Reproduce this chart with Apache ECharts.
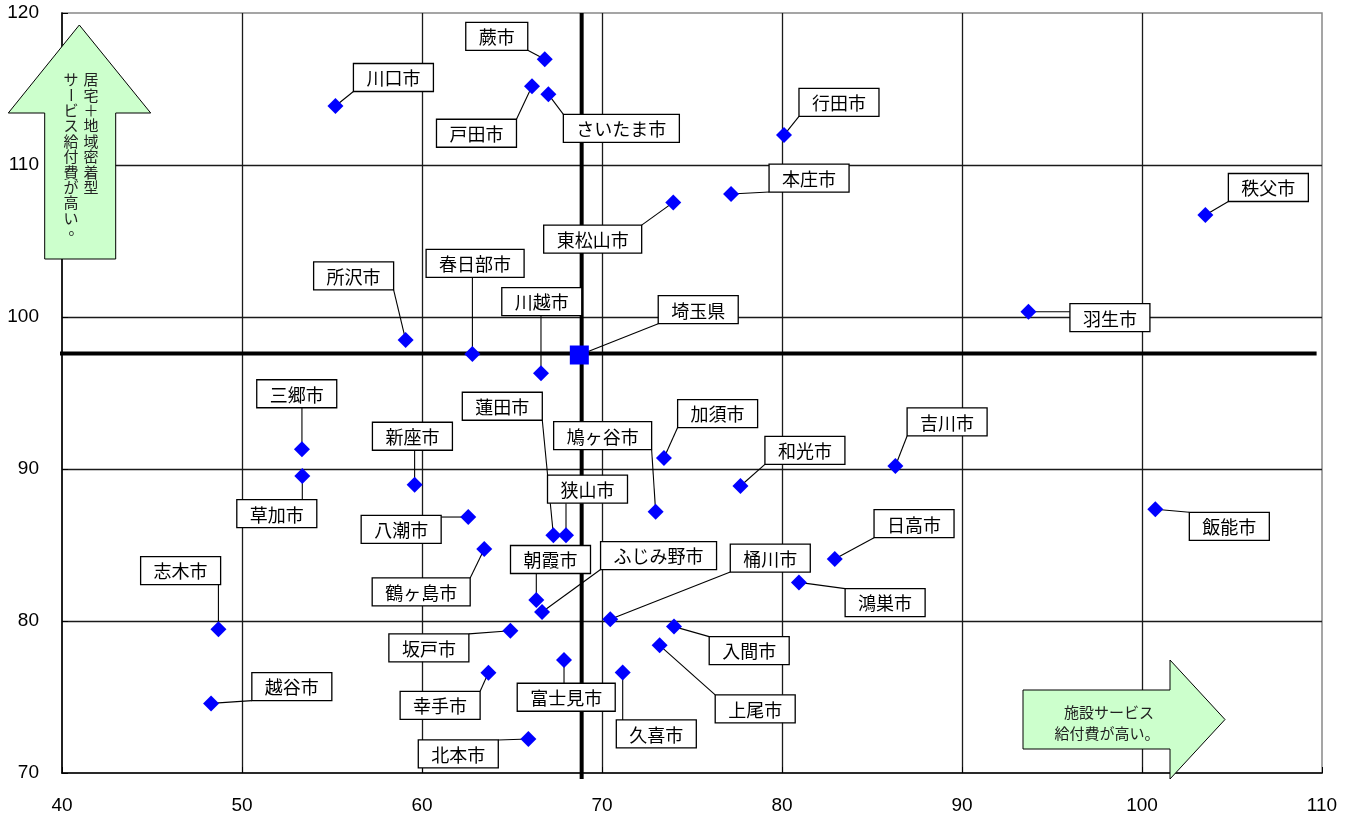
<!DOCTYPE html>
<html><head><meta charset="utf-8">
<script src="https://cdn.jsdelivr.net/npm/echarts@6/dist/echarts.min.js"></script>
<style>html,body{margin:0;padding:0;background:#fff}#c{width:1354px;height:819px}</style>
</head><body><div id="c"></div>
<script>
// ---- data ----
const cityNames = ['川口市','蕨市','戸田市','さいたま市','行田市','本庄市','東松山市','秩父市','所沢市','春日部市',
  '川越市','羽生市','三郷市','草加市','新座市','八潮市','蓮田市','狭山市','鳩ヶ谷市','加須市',
  '和光市','吉川市','飯能市','日高市','鴻巣市','鶴ヶ島市','朝霞市','ふじみ野市','桶川市','志木市',
  '坂戸市','入間市','上尾市','富士見市','幸手市','久喜市','北本市','越谷市'];
const cityX = [55.19,66.82,66.11,67.02,80.11,77.17,73.96,103.52,59.09,62.8,
  66.61,93.69,53.33,53.35,59.59,62.57,67.3,68.0,72.98,73.44,
  77.69,86.3,100.74,82.93,80.94,63.46,66.35,66.67,70.46,48.69,
  64.91,74.0,73.2,67.89,63.69,71.15,65.91,48.28];
const cityY = [113.88,116.95,115.18,114.65,111.97,108.09,107.54,106.71,98.49,97.57,
  96.3,100.35,91.3,89.54,88.97,86.84,85.64,85.64,87.19,90.72,
  88.88,90.2,87.35,84.08,82.54,84.74,81.38,80.59,80.11,79.45,
  79.36,79.63,78.4,77.43,76.6,76.62,72.24,74.58];
const prefName = '埼玉県';
const prefX = 68.74;
const prefY = 97.5;
const refX = 68.87;   // vertical reference line (prefecture level)
const refY = 97.6;    // horizontal reference line
const xTicks = [40,50,60,70,80,90,100,110];
const yTicks = [70,80,90,100,110,120];

// ---- layout: label box offsets from marker, in px ----
const labelOffsets = {
  '川口市':[58,-28.5],'蕨市':[-48,-23],'戸田市':[-55.5,47],'さいたま市':[73,34],'行田市':[55,-32.7],
  '本庄市':[78,-16],'東松山市':[-80.6,36.7],'秩父市':[63,-27.5],'所沢市':[-52,-64],'春日部市':[2.7,-90.5],
  '川越市':[0.8,-71.6],'羽生市':[81.5,6],'三郷市':[-5.2,-55.5],'草加市':[-25.5,37.7],'新座市':[-2.2,-48.4],
  '八潮市':[-67.1,12.3],'蓮田市':[-51.1,-129],'狭山市':[21.5,-46.1],'鳩ヶ谷市':[-53,-76],'加須市':[53.7,-44.5],
  '和光市':[64.5,-35.7],'吉川市':[51.7,-44],'飯能市':[74,17],'日高市':[79.3,-35.3],'鴻巣市':[86.2,20.2],
  '鶴ヶ島市':[-63.1,43],'朝霞市':[14.2,-40.5],'ふじみ野市':[116.5,-56.5],'桶川市':[160,-61.3],'志木市':[-37.8,-58.8],
  '坂戸市':[-81.5,17.1],'入間市':[75.2,24],'上尾市':[95.6,63.5],'富士見市':[2.2,37.2],'幸手市':[-48.3,32.6],
  '久喜市':[33.6,61.5],'北本市':[-70.1,15],'越谷市':[80.8,-16.8],'埼玉県':[118.9,-45.3]
};

const FONT_JP = '"Noto Sans CJK JP", sans-serif';
const LABEL_FS = 18, PADX = 13, BOXH = 28;

const allPoints = cityNames.map((n,i)=>[cityX[i], cityY[i], n]).concat([[prefX, prefY, prefName]]);

function renderLabel(params, api) {
  const name = allPoints[params.dataIndex][2];
  const c = api.coord([api.value(0), api.value(1)]);
  const off = labelOffsets[name];
  const cx = c[0] + off[0], cy = c[1] + off[1];
  const w = name.length * LABEL_FS + 2 * PADX, h = BOXH;
  const x0 = cx - w/2, y0 = cy - h/2;
  const nx = Math.min(Math.max(c[0], x0), x0 + w);
  const ny = Math.min(Math.max(c[1], y0), y0 + h);
  return {type:'group', children:[
    {type:'line', shape:{x1:c[0], y1:c[1], x2:nx, y2:ny}, style:{stroke:'#000', lineWidth:1.1}},
    {type:'rect', shape:{x:x0, y:y0, width:w, height:h}, style:{fill:'#fff', stroke:'#000', lineWidth:1.3}},
    {type:'text', x:cx, y:cy+1, style:{text:name, align:'center', textAlign:'center', verticalAlign:'middle', textVerticalAlign:'middle', font: LABEL_FS + 'px ' + FONT_JP, fill:'#000'}}
  ]};
}

// vertical text in the up arrow
const graphics = [];
graphics.push({type:'polygon', z:100, shape:{points:[[79.3,25],[150.7,113],[115.7,113],[115.7,259],[44.7,259],[44.7,113],[8.3,113]]},
  style:{fill:'#CCFFCC', stroke:'#000', lineWidth:1}});
function vcol(str, x, y0, step) {
  Array.from(str).forEach((ch, i) => {
    const el = {type:'text', z:101, x:x, y:y0 + i*step,
      style:{text:ch, align:'center', textAlign:'center', verticalAlign:'middle', textVerticalAlign:'middle', font:'15px ' + FONT_JP, fill:'#222'}};
    if (ch === 'ー') el.rotation = Math.PI/2;
    if (ch === '。') { el.x = x + 5; el.y = y0 + i*step - 5; }
    graphics.push(el);
  });
}
vcol('居宅＋地域密着型', 91, 79.5, 15.4);
vcol('サービス給付費が高い。', 71, 79.5, 15.4);
graphics.push({type:'polygon', z:100, shape:{points:[[1023,690],[1170,690],[1170,660],[1225,719.5],[1170,779],[1170,749],[1023,749]]},
  style:{fill:'#CCFFCC', stroke:'#000', lineWidth:1}});
graphics.push({type:'text', z:101, x:1109, y:712, style:{text:'施設サービス', align:'center', textAlign:'center', verticalAlign:'middle', textVerticalAlign:'middle', font:'15px ' + FONT_JP, fill:'#222'}});
graphics.push({type:'text', z:101, x:1107, y:733, style:{text:'給付費が高い。', align:'center', textAlign:'center', verticalAlign:'middle', textVerticalAlign:'middle', font:'15px ' + FONT_JP, fill:'#222'}});

const axisCommon = {
  type:'value',
  axisLine:{show:true, onZero:false, lineStyle:{color:'#000', width:1.6}},
  axisTick:{show:true, inside:true, length:6, lineStyle:{color:'#000', width:1}},
  splitLine:{show:true, showMinLine:false, showMaxLine:false, lineStyle:{color:'#1a1a1a', width:1.3}},
  axisLabel:{fontSize:19, fontFamily:'"Liberation Sans", Arial, sans-serif', color:'#000'}
};

const chart = echarts.init(document.getElementById('c'));
chart.setOption({
  animation:false,
  backgroundColor:'#fff',
  grid:{left:62, right:32, top:13, bottom:46, show:true, borderColor:'#888', borderWidth:1.5, containLabel:false, outerBoundsMode:'none'},
  xAxis: Object.assign({}, axisCommon, {min:xTicks[0], max:xTicks[xTicks.length-1], interval:xTicks[1]-xTicks[0],
    axisLabel:Object.assign({}, axisCommon.axisLabel, {margin:23})}),
  yAxis: Object.assign({}, axisCommon, {min:yTicks[0], max:yTicks[yTicks.length-1], interval:yTicks[1]-yTicks[0],
    axisLabel:Object.assign({}, axisCommon.axisLabel, {margin:23, padding:[7,0,0,0]})}),
  series:[
    {type:'line', z:2, silent:true, clip:false, symbol:'none', data:[[refX, 69.6],[refX, 120]], lineStyle:{color:'#000', width:4}},
    {type:'line', z:2, silent:true, clip:false, symbol:'none', data:[[39.85, refY],[109.7, refY]], lineStyle:{color:'#000', width:4}},
    {type:'custom', z:3, clip:false, silent:true, renderItem:renderLabel, data:allPoints.map(p=>[p[0],p[1]])},
    {type:'scatter', z:5, symbol:'diamond', symbolSize:16, itemStyle:{color:'#0000FF', opacity:1}, data:cityNames.map((n,i)=>[cityX[i], cityY[i]])},
    {type:'scatter', z:5, symbol:'rect', symbolSize:19, itemStyle:{color:'#0000FF', opacity:1}, data:[[prefX, prefY]]}
  ],
  graphic: graphics
});
</script>
</body></html>
